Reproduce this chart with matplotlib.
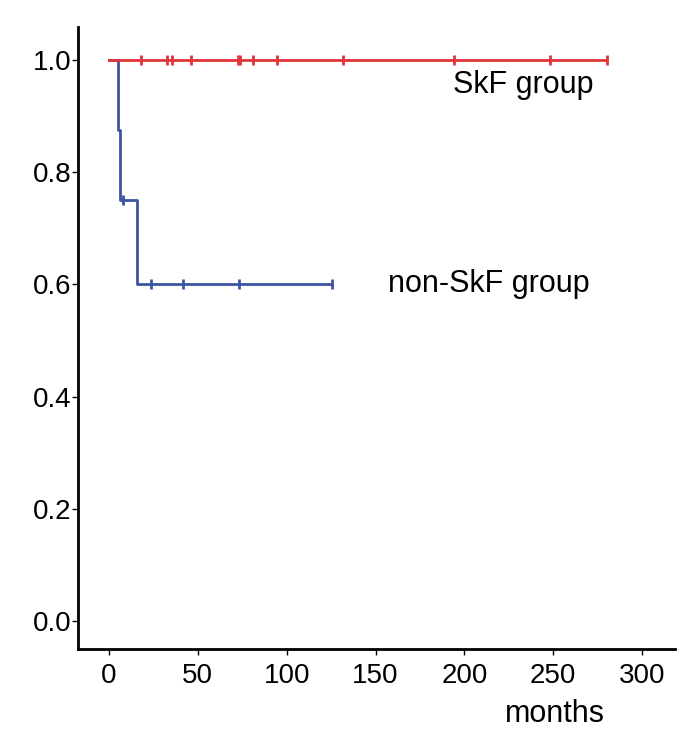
import matplotlib
matplotlib.use("Agg")
from matplotlib import pyplot as plt

# datos curva SkF (sin eventos)
skf_t = [0, 280]
skf_s = [1.0, 1.0]
skf_cens = [18, 32.6, 35.5, 46, 72.6, 73.7, 81, 94.5, 131.7, 194, 248, 280]

# datos curva non-SkF (escalones)
non_t = [0, 4.9, 4.9, 6.4, 6.4, 15.9, 15.9, 125.7]
non_s = [1.0, 1.0, 0.875, 0.875, 0.75, 0.75, 0.6, 0.6]
non_cens_t = [7.7, 23.5, 41.8, 73.2, 125.7]
non_cens_s = [0.75, 0.6, 0.6, 0.6, 0.6]

plt.rcParams['font.family'] = ['Liberation Sans', 'DejaVu Sans']

fig = plt.figure(figsize=(6.87, 7.35), dpi=100)
ax = fig.add_axes([78/687, 1-649/735, (675-78)/687, (649-27)/735])

rojo = '#e0363c'
azul = '#3b55a3'

ax.plot(non_t, non_s, color=azul, lw=2.0)
ax.plot(non_cens_t, non_cens_s, ls='none', marker='|', ms=7, mew=2, color=azul)
ax.plot(skf_t, skf_s, color=rojo, lw=2.0)
ax.plot(skf_cens, [1.0]*len(skf_cens), ls='none', marker='|', ms=7, mew=2, color=rojo)

ax.set_xlim(-17.4, 318.5)
ax.set_ylim(-0.05, 1.059)
ax.set_xticks([0, 50, 100, 150, 200, 250, 300])
ax.set_yticks([0.0, 0.2, 0.4, 0.6, 0.8, 1.0])
ax.set_yticklabels(["0.0", "0.2", "0.4", "0.6", "0.8", "1.0"])

# etiquetas de grupos
ax.text(272.4, 0.941, "SkF group", fontsize=22, ha='right', va='baseline')
ax.text(270.7, 0.586, "non-SkF group", fontsize=22, ha='right', va='baseline')

ax.tick_params(labelsize=20, length=4, width=1)
ax.tick_params(axis='x', pad=6)
ax.tick_params(axis='y', pad=1)
for s in ['top', 'right']:
    ax.spines[s].set_visible(False)
for s in ['left', 'bottom']:
    ax.spines[s].set_linewidth(2)

fig.text(555/687, 1-722/735, "months", fontsize=22, ha='center', va='baseline')

fig.savefig("out.png", dpi=100)
